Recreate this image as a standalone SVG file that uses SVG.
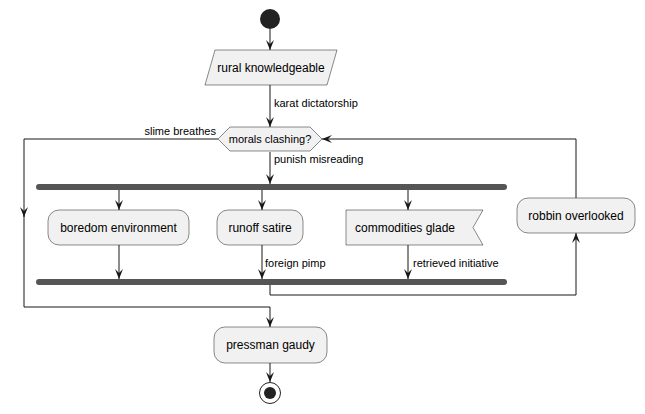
<svg xmlns="http://www.w3.org/2000/svg" width="645" height="414" viewBox="0 0 645 414">
<defs>
<style>
.n{fill:#F1F1F1;stroke:#181818;stroke-width:0.5}
.t{font-family:"Liberation Sans",Arial,sans-serif;font-size:12px;fill:#000}
.l{font-family:"Liberation Sans",Arial,sans-serif;font-size:11px;fill:#000}
.c{fill:none;stroke:#181818;stroke-width:1}
.bar{fill:#555555;stroke:none}
</style>
<marker id="a" viewBox="0 0 10 10" refX="10" refY="5" markerWidth="10" markerHeight="10" markerUnits="userSpaceOnUse" orient="auto">
<path d="M0,1 L10,5 L0,9 L4,5 Z" fill="#181818"/>
</marker>
</defs>
<rect width="645" height="414" fill="#FFFFFF"/>
<g id="connectors">
<line class="c" x1="270" y1="29" x2="270" y2="50" marker-end="url(#a)"/>
<line class="c" x1="270" y1="85" x2="270" y2="127" marker-end="url(#a)"/>
<text class="l" x="274" y="107">karat dictatorship</text>
<polyline class="c" points="218,139 24,139 24,217" marker-end="url(#a)"/>
<polyline class="c" points="24,212 24,307 270,307 270,327" marker-end="url(#a)"/>
<text class="l" x="216" y="135" text-anchor="end">slime breathes</text>
<line class="c" x1="270" y1="152" x2="270" y2="184" marker-end="url(#a)"/>
<text class="l" x="274" y="163">punish misreading</text>
<line class="c" x1="119" y1="190" x2="119" y2="210" marker-end="url(#a)"/>
<line class="c" x1="262" y1="190" x2="262" y2="210" marker-end="url(#a)"/>
<line class="c" x1="408" y1="190" x2="408" y2="210" marker-end="url(#a)"/>
<line class="c" x1="119" y1="245" x2="119" y2="279" marker-end="url(#a)"/>
<line class="c" x1="262" y1="245" x2="262" y2="279" marker-end="url(#a)"/>
<line class="c" x1="408" y1="245" x2="408" y2="279" marker-end="url(#a)"/>
<text class="l" x="265" y="267">foreign pimp</text>
<text class="l" x="413" y="267">retrieved initiative</text>
<polyline class="c" points="270,285 270,295 576,295 576,233" marker-end="url(#a)"/>
<polyline class="c" points="576,198 576,139 322,139" marker-end="url(#a)"/>
<line class="c" x1="270" y1="363" x2="270" y2="382" marker-end="url(#a)"/>
</g>
<g id="start"><circle cx="270" cy="19" r="10" fill="#222222"/></g>
<g id="rural"><polygon class="n" points="215,50 337,50 327,85 205,85"/><text class="t" x="271" y="72" text-anchor="middle">rural knowledgeable</text></g>
<g id="morals"><polygon class="n" points="218,139 230,127 310,127 322,139 310,151 230,151"/><text class="l" x="270" y="143" text-anchor="middle">morals clashing?</text></g>
<g id="fork"><rect class="bar" x="36" y="184" width="471" height="6" rx="3"/></g>
<g id="boredom"><rect class="n" x="48" y="210" width="141" height="35" rx="11"/><text class="t" x="118.5" y="232" text-anchor="middle">boredom environment</text></g>
<g id="runoff"><rect class="n" x="217" y="210" width="86" height="35" rx="11"/><text class="t" x="260" y="232" text-anchor="middle">runoff satire</text></g>
<g id="commodities"><polygon class="n" points="346,210 483,210 473,227.5 483,245 346,245"/><text class="t" x="405" y="232" text-anchor="middle">commodities glade</text></g>
<g id="robbin"><rect class="n" x="517" y="198" width="118" height="35" rx="11"/><text class="t" x="576" y="220" text-anchor="middle">robbin overlooked</text></g>
<g id="join"><rect class="bar" x="36" y="279" width="471" height="6" rx="3"/></g>
<g id="pressman"><rect class="n" x="214" y="327" width="113" height="36" rx="11"/><text class="t" x="270.5" y="349" text-anchor="middle">pressman gaudy</text></g>
<g id="end"><circle cx="270" cy="393" r="10.5" fill="none" stroke="#222222" stroke-width="1"/><circle cx="270" cy="393" r="6" fill="#222222"/></g>
</svg>
